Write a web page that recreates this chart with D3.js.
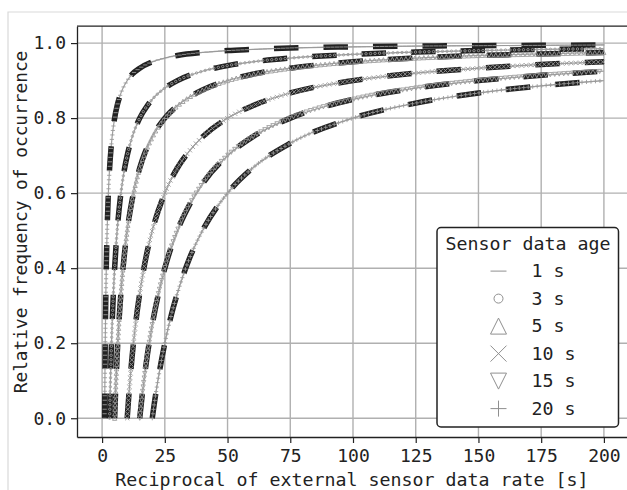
<!DOCTYPE html>
<html><head><meta charset="utf-8">
<script src="https://cdn.jsdelivr.net/npm/d3@7"></script>
<style>body{margin:0;background:#fff}svg{display:block}</style>
</head><body><svg id="c" width="627" height="490"></svg>
<script>
// ---- data ----
const seriesLabels = ["1 s", "3 s", "5 s", "10 s", "15 s", "20 s"];
const seriesMarkers = ["hline", "circle", "triUp", "cross", "triDown", "plus"];

const age1X = [1, 1.1, 1.25, 1.5, 1.75, 2, 2.5, 3, 3.5, 4, 5, 6, 7, 8, 10, 12, 15, 20, 25, 30, 40, 50, 60, 75, 100, 125, 150, 175, 200];
const age1Y = [0, 0.091, 0.2, 0.333, 0.429, 0.5, 0.6, 0.667, 0.714, 0.75, 0.8, 0.833, 0.857, 0.875, 0.9, 0.917, 0.933, 0.95, 0.96, 0.967, 0.975, 0.98, 0.983, 0.987, 0.99, 0.992, 0.993, 0.994, 0.995];

const age3X = [3, 3.25, 3.5, 4, 4.5, 5, 6, 7, 8, 9, 10, 12, 15, 18, 20, 25, 30, 40, 50, 60, 75, 100, 125, 150, 175, 200];
const age3Y = [0, 0.077, 0.143, 0.25, 0.333, 0.4, 0.5, 0.571, 0.625, 0.667, 0.7, 0.75, 0.8, 0.833, 0.85, 0.88, 0.9, 0.925, 0.94, 0.95, 0.96, 0.97, 0.976, 0.98, 0.983, 0.985];

const age5X = [5, 5.5, 6, 6.5, 7, 8, 9, 10, 12, 14, 16, 20, 25, 30, 35, 40, 50, 60, 75, 100, 125, 150, 175, 200];
const age5Y = [0, 0.091, 0.167, 0.231, 0.286, 0.375, 0.444, 0.5, 0.583, 0.643, 0.688, 0.75, 0.8, 0.833, 0.857, 0.875, 0.9, 0.917, 0.933, 0.95, 0.96, 0.967, 0.971, 0.975];

const age10X = [10, 11, 12, 13, 14, 15, 17.5, 20, 25, 30, 35, 40, 50, 60, 75, 100, 125, 150, 175, 200];
const age10Y = [0, 0.091, 0.167, 0.231, 0.286, 0.333, 0.429, 0.5, 0.6, 0.667, 0.714, 0.75, 0.8, 0.833, 0.867, 0.9, 0.92, 0.933, 0.943, 0.95];

const age15X = [15, 16, 17, 18, 20, 22.5, 25, 30, 35, 40, 50, 60, 75, 100, 125, 150, 175, 200];
const age15Y = [0, 0.063, 0.118, 0.167, 0.25, 0.333, 0.4, 0.5, 0.571, 0.625, 0.7, 0.75, 0.8, 0.85, 0.88, 0.9, 0.914, 0.925];

const age20X = [20, 21, 22, 23, 25, 27.5, 30, 35, 40, 50, 60, 75, 100, 125, 150, 175, 200];
const age20Y = [0, 0.048, 0.091, 0.13, 0.2, 0.273, 0.333, 0.429, 0.5, 0.6, 0.667, 0.733, 0.8, 0.84, 0.867, 0.886, 0.9];

const xTicks = [0, 25, 50, 75, 100, 125, 150, 175, 200];
const yTicks = [0, 0.2, 0.4, 0.6, 0.8, 1.0];

const xTitle = "Reciprocal of external sensor data rate [s]";
const yTitle = "Relative frequency of occurrence";
const legendTitle = "Sensor data age";

// ---- build ----
const seriesX = [age1X, age3X, age5X, age10X, age15X, age20X];
const seriesY = [age1Y, age3Y, age5Y, age10Y, age15Y, age20Y];
const series = seriesLabels.map((lab, i) => ({
  label: lab, marker: seriesMarkers[i],
  pts: seriesX[i].map((xv, j) => [xv, seriesY[i][j]])
}));

const FONT = "DejaVu Sans Mono";
const svg = d3.select("#c");

// page frame (light border of the captured figure)
svg.append("path").attr("d", "M8,490V12H627").attr("fill", "none")
  .attr("stroke", "#d9d9d9").attr("stroke-width", 1.2);

const x = d3.scaleLinear().domain([-10, 210]).range([77, 629]);
const y = d3.scaleLinear().domain([-0.05, 1.045]).range([437, 26.2]);
const [x0, x1] = x.range();
const [yb, yt] = y.range();

// grid
const grid = svg.append("g");
grid.selectAll("line.vx").data(xTicks).join("line")
  .attr("x1", d => x(d)).attr("x2", d => x(d)).attr("y1", yb).attr("y2", yt)
  .attr("stroke", "#b0b0b0").attr("stroke-width", 1.4);
grid.selectAll("line.hy").data(yTicks).join("line")
  .attr("y1", d => y(d)).attr("y2", d => y(d)).attr("x1", x0).attr("x2", x1)
  .attr("stroke", "#b0b0b0").attr("stroke-width", 1.4);

function markerPath(type, s) {
  const h = s / 2;
  switch (type) {
    case "hline": return `M${-h},0H${h}`;
    case "circle": return `M${h},0A${h},${h} 0 1,1 ${-h},0A${h},${h} 0 1,1 ${h},0Z`;
    case "triUp": return `M0,${-h}L${h},${h}L${-h},${h}Z`;
    case "triDown": return `M0,${h}L${h},${-h}L${-h},${-h}Z`;
    case "cross": return `M${-h},${-h}L${h},${h}M${-h},${h}L${h},${-h}`;
    case "plus": return `M${-h},0H${h}M0,${-h}V${h}`;
  }
}

const line = d3.line().x(d => x(d[0])).y(d => y(d[1])).curve(d3.curveMonotoneX);

// thin grey lines
const plot = svg.append("g");
series.forEach(s => {
  plot.append("path").attr("d", line(s.pts)).attr("fill", "none")
    .attr("stroke", "#a0a0a0").attr("stroke-width", 1.2);
});

// dashed thick lines with dense markers
series.forEach(s => {
  const p = plot.append("path").attr("d", line(s.pts)).attr("fill", "none")
    .attr("stroke", "#222").attr("stroke-width", 5.5)
    .attr("stroke-dasharray", "24.5,25");
  const node = p.node();
  const L = node.getTotalLength();
  const mk = plot.append("g");
  const step = 4.5;
  const mPath = markerPath(s.marker, s.marker === "circle" ? 2.4 : 4.2);
  for (let l = 0; l <= L; l += step) {
    const pt = node.getPointAtLength(l);
    mk.append("path").attr("d", mPath)
      .attr("transform", `translate(${pt.x},${pt.y})`)
      .attr("fill", "none").attr("stroke", "#9a9a9a").attr("stroke-width", 0.9);
  }
});

// axes
const xAxis = svg.append("g").attr("transform", `translate(0,${yb})`)
  .call(d3.axisBottom(x).tickValues(xTicks).tickSize(6).tickSizeOuter(0).tickPadding(6).tickFormat(d3.format("d")));
const yAxis = svg.append("g").attr("transform", `translate(${x0},0)`)
  .call(d3.axisLeft(y).tickValues(yTicks).tickSize(6).tickSizeOuter(0).tickPadding(5).tickFormat(d3.format(".1f")));
[xAxis, yAxis].forEach(a => {
  a.select(".domain").attr("stroke", "#222").attr("stroke-width", 1.3);
  a.selectAll(".tick line").attr("stroke", "#222").attr("stroke-width", 1.2);
  a.selectAll(".tick text").attr("font-family", FONT).attr("font-size", 18).attr("fill", "#222");
});
svg.append("line").attr("x1", x0).attr("x2", x1).attr("y1", yt).attr("y2", yt)
  .attr("stroke", "#222").attr("stroke-width", 1.3);

// axis titles
svg.append("text").attr("x", 352).attr("y", 486).attr("text-anchor", "middle")
  .attr("font-family", FONT).attr("font-size", 18.3).attr("fill", "#222").text(xTitle);
svg.append("text").attr("transform", "translate(27,222) rotate(-90)").attr("text-anchor", "middle")
  .attr("font-family", FONT).attr("font-size", 17.8).attr("fill", "#222").text(yTitle);

// legend
const lg = svg.append("g");
lg.append("rect").attr("x", 437).attr("y", 227.5).attr("width", 181.5).attr("height", 199.5)
  .attr("rx", 4).attr("fill", "#fff").attr("stroke", "#222").attr("stroke-width", 1.5);
lg.append("text").attr("x", 528).attr("y", 249.5).attr("text-anchor", "middle")
  .attr("font-family", FONT).attr("font-size", 18.3).attr("fill", "#222").text(legendTitle);
series.forEach((s, i) => {
  const by = 277.3 + i * 27.5;
  lg.append("path").attr("d", markerPath(s.marker, s.marker === "circle" ? 9 : 16))
    .attr("transform", `translate(498.5,${by - 6.2})`)
    .attr("fill", "none").attr("stroke", "#8f8f8f").attr("stroke-width", 1);
  lg.append("text").attr("x", 531.5).attr("y", by)
    .attr("font-family", FONT).attr("font-size", 18.3).attr("fill", "#222").text(s.label);
});
</script></body></html>
